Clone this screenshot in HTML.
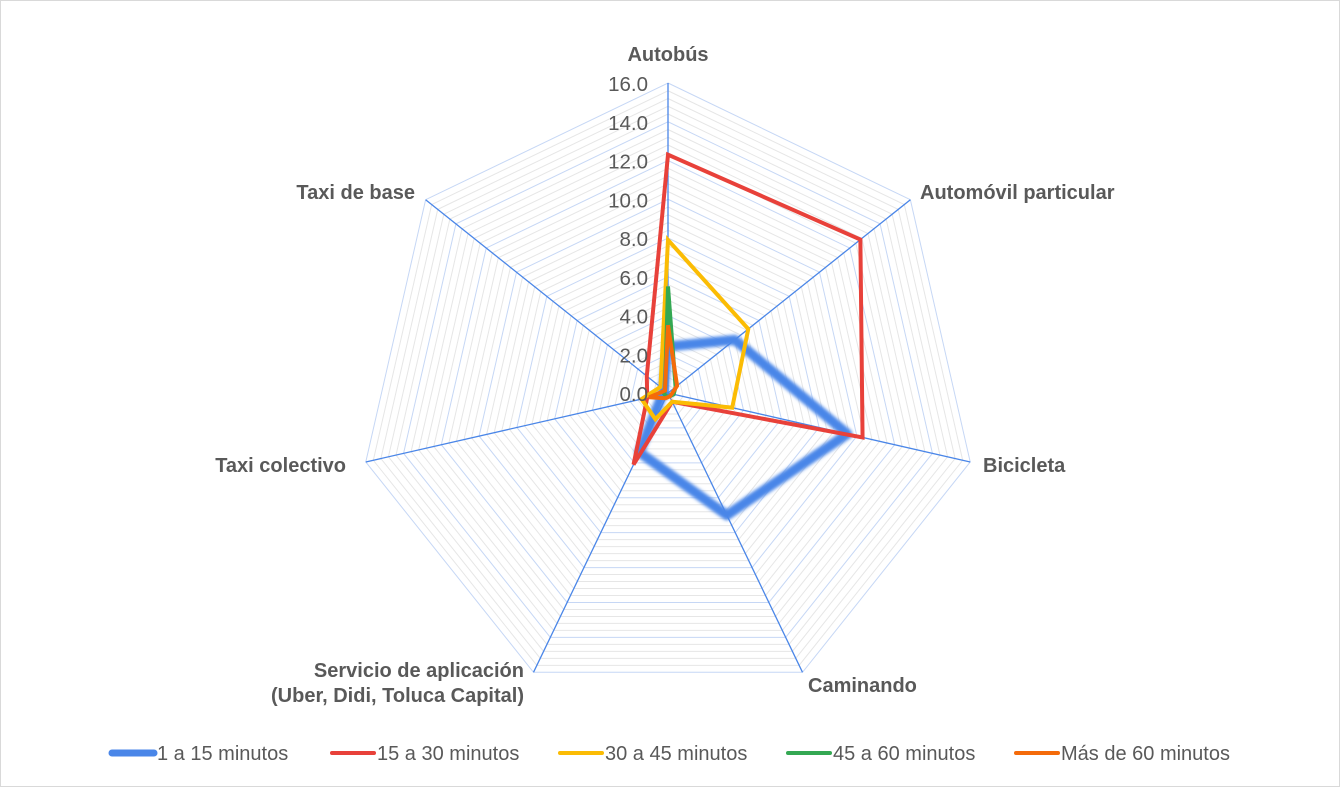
<!DOCTYPE html>
<html><head><meta charset="utf-8"><style>
html,body{margin:0;padding:0;background:#fff}
svg{display:block;font-family:"Liberation Sans",sans-serif}
</style></head><body>
<svg id="c" width="1340" height="787" viewBox="0 0 1340 787">
<defs><filter id="blur" x="-10%" y="-10%" width="120%" height="120%"><feGaussianBlur stdDeviation="1.6"/></filter></defs>
<rect x="0.5" y="0.5" width="1339" height="786" fill="#fff" stroke="#d9d9d9"/>
<g id="grid"></g><g id="series"></g><g id="labels"></g><g id="legend"></g>
</svg>
<script>
const categories=["Autobús","Automóvil particular","Bicicleta","Caminando","Servicio de aplicación|(Uber, Didi, Toluca Capital)","Taxi colectivo","Taxi de base"];
const seriesNames=["1 a 15 minutos","15 a 30 minutos","30 a 45 minutos","45 a 60 minutos","Más de 60 minutos"];
const s1=[2.4,4.4,9.5,7.0,3.4,0.3,0.3];
const s2=[12.3,12.7,10.3,0.5,4.1,1.1,1.4];
const s3=[7.9,5.3,3.4,0.5,1.5,1.4,0.5];
const s4=[5.5,0.5,0.3,0.2,0.2,0.2,0.2];
const s5=[3.5,0.6,0.2,0.2,0.3,1.0,0.2];
const tickLabels=["0.0","2.0","4.0","6.0","8.0","10.0","12.0","14.0","16.0"];
const colors=["#4a86e8","#e8413a","#fbbc04","#34a853","#f46b0a"];
const NS="http://www.w3.org/2000/svg";
const cx=668,cy=393,R=310,maxV=16,n=categories.length;
function ang(i){return i*2*Math.PI/n;}
function pt(i,v){const r=v/maxV*R;return [cx+r*Math.sin(ang(i)),cy-r*Math.cos(ang(i))];}
function mk(tag,attrs,parent){const e=document.createElementNS(NS,tag);for(const k in attrs)e.setAttribute(k,attrs[k]);parent.appendChild(e);return e;}
const grid=document.getElementById('grid');
for(let v=0.4;v<=16.001;v+=0.4){
  const major=Math.abs(v/2-Math.round(v/2))<1e-6;
  const pts=[];for(let i=0;i<n;i++)pts.push(pt(i,v).join(','));
  const g=mk('polygon',{points:pts.join(' '),fill:'none',stroke:major?'#c6d7f5':'#e6e6e6','stroke-width':1},grid);
  
  
}
for(let i=0;i<n;i++){const p=pt(i,16);const l=mk('line',{x1:cx,y1:cy,x2:p[0],y2:p[1],stroke:'#4a86e8','stroke-width':1.3},grid);
  
  }
const labels=document.getElementById('labels');
tickLabels.forEach((t,k)=>{const v=parseFloat(t);const tx=mk('text',{x:cx-20,y:cy-v/maxV*R+8,'text-anchor':'end','font-size':20.5,fill:'#595959'},labels);tx.textContent=t;
  
  });
const series=document.getElementById('series');
[s1,s2,s3,s4,s5].forEach((d,si)=>{
  const pts=d.map((v,i)=>pt(i,v).join(',')).join(' ');
  if(si===0){const b=mk('polygon',{points:pts,fill:'none',stroke:colors[0],'stroke-width':10,'stroke-linejoin':'round',filter:'url(#blur)'},series);
    
    }
  else{const p=mk('polygon',{points:pts,fill:'none',stroke:colors[si],'stroke-width':4,'stroke-linejoin':'miter'},series);
    
    }
});
const catPos=[[668,61,'middle'],[920,199,'start'],[983,472,'start'],[808,692,'start'],[524,677,'end'],[346,472,'end'],[415,199,'end']];
categories.forEach((c,i)=>{const [x,y,a]=catPos[i];const parts=c.split('|');
  parts.forEach((s,k)=>{const t=mk('text',{x:x,y:y+k*25,'text-anchor':a,'font-size':20,'font-weight':'bold',fill:'#595959'},labels);t.textContent=s;
    
    });});
const legend=document.getElementById('legend');
const lx=[112,332,560,788,1016];
seriesNames.forEach((s,i)=>{const g=mk('g',{},legend);
  
  
  mk('line',{x1:lx[i],y1:753,x2:lx[i]+42,y2:753,stroke:colors[i],'stroke-width':i===0?7:4,'stroke-linecap':'round'},g);
  const t=mk('text',{x:lx[i]+45,y:760,'font-size':20,fill:'#595959'},g);t.textContent=s;});
</script>
</body></html>
